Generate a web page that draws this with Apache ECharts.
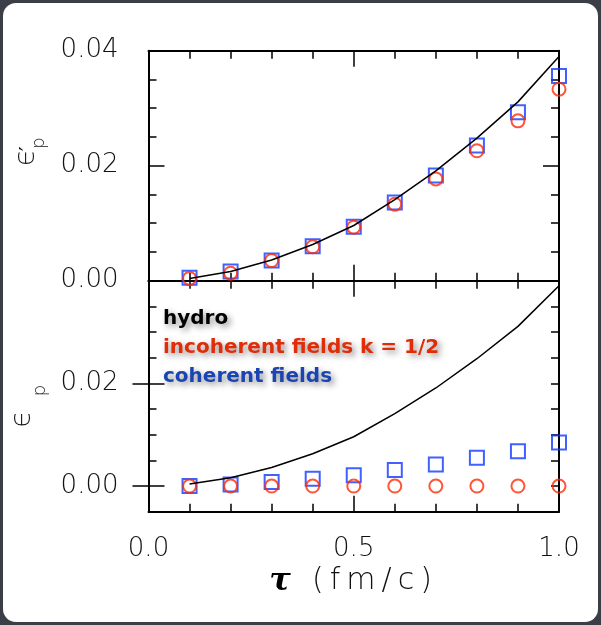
<!DOCTYPE html>
<html>
<head>
<meta charset="utf-8">
<script src="https://cdn.jsdelivr.net/npm/echarts@6/dist/echarts.min.js"></script>
<style>
  html, body { margin: 0; padding: 0; background: #3b3e46; }
  #card { position: absolute; left: 3px; top: 3px; width: 595px; height: 619px; background: #fff; border-radius: 13px; }
  #chart { position: absolute; left: 0; top: 0; width: 601px; height: 625px; }
</style>
</head>
<body>
<div id="card"></div>
<div id="chart"></div>
<script>
// tau in fm/c
const tau = [0.1, 0.2, 0.3, 0.4, 0.5, 0.6, 0.7, 0.8, 0.9, 1.0];
// hydro curve (same in both panels)
const hydro = [0.0004, 0.0016, 0.0036, 0.0063, 0.0096, 0.0141, 0.0191, 0.0248, 0.0311, 0.0390];
// top panel: eps'_p
const incoherentTop = [0.0004, 0.0013, 0.0035, 0.0059, 0.0093, 0.0133, 0.0177, 0.0226, 0.0278, 0.0333];
const coherentTop = [0.0005, 0.0016, 0.0035, 0.0060, 0.0094, 0.0136, 0.0183, 0.0235, 0.0293, 0.0356];
// bottom panel: eps_p
const incoherentBottom = [0, 0, 0, 0, 0, 0, 0, 0, 0, 0];
const coherentBottom = [0.0000, 0.0003, 0.0008, 0.0014, 0.0021, 0.0031, 0.0042, 0.0055, 0.0068, 0.0085];
// tick labels
const xTickLabels = [0, 0.5, 1.0];
const yTickLabelsTop = [0, 0.02, 0.04];
const yTickLabelsBottom = [0, 0.02];
const legendNames = ['hydro', 'incoherent fields k = 1/2', 'coherent fields'];

const pairs = (ys) => tau.map((t, i) => [t, ys[i]]);

const BLUE = '#1038ff';
const RED = '#ff2a08';
const TXT = '#111';
const labelFont = { fontFamily: 'DejaVu Sans', fontWeight: 200, fontSize: 26, color: TXT };
const frameLine = { show: true, onZero: false, lineStyle: { color: '#000', width: 2 } };
const tickStyle = { color: '#000', width: 1.5 };

// rich styles for the rotated y-axis names (epsilon, prime, subscript p)
const nameRich = {
  e: { fontFamily: 'DejaVu Sans', fontWeight: 200, fontSize: 28, lineHeight: 36, verticalAlign: 'top', color: TXT },
  s: { fontFamily: 'DejaVu Sans', fontSize: 22, lineHeight: 22, width: 0, verticalAlign: 'top', padding: [6, 0, 0, 0], color: TXT },
  g: { width: 14, fontSize: 10 },
  p: { fontFamily: 'DejaVu Sans', fontWeight: 200, fontSize: 18, lineHeight: 18, verticalAlign: 'bottom', color: TXT }
};

const xAxisBase = (grid, position, labels) => ({
  type: 'value', gridIndex: grid, position, min: 0, max: 1, interval: 0.5,
  axisLine: frameLine,
  axisTick: { show: true, inside: true, length: 16, lineStyle: tickStyle },
  minorTick: { show: true, splitNumber: 5, length: 8, lineStyle: tickStyle },
  axisLabel: labels ? { show: true, margin: 25, ...labelFont, customValues: xTickLabels,
    formatter: v => v.toFixed(1) } : { show: false },
  splitLine: { show: false }, minorSplitLine: { show: false }
});

const chart = echarts.init(document.getElementById('chart'), null, { renderer: 'canvas' });

const option = {
  animation: false,
  backgroundColor: 'transparent',
  grid: [
    { left: 148.5, top: 50.7, width: 410.5, height: 230 },
    { left: 148.5, top: 280.7, width: 410.5, height: 231 }
  ],
  xAxis: [
    xAxisBase(0, 'bottom', false),
    xAxisBase(0, 'top', false),
    xAxisBase(1, 'bottom', true),
    xAxisBase(1, 'top', false)
  ],
  yAxis: [
    // top panel, left and right
    {
      type: 'value', gridIndex: 0, position: 'left', min: 0, max: 0.04, interval: 0.02,
      name: '{e|ϵ}{s|′}{p|p}', nameLocation: 'middle', nameGap: 100,
      nameTextStyle: { lineHeight: 41, padding: [0, 0, 0, 28], rich: nameRich },
      axisLine: frameLine,
      axisTick: { show: true, inside: true, length: 16, lineStyle: tickStyle },
      minorTick: { show: true, splitNumber: 4, length: 8, lineStyle: tickStyle },
      axisLabel: { show: true, margin: 30, ...labelFont, customValues: yTickLabelsTop, formatter: v => v.toFixed(2) },
      splitLine: { show: false }
    },
    {
      type: 'value', gridIndex: 0, position: 'right', min: 0, max: 0.04, interval: 0.02,
      axisLine: frameLine,
      axisTick: { show: true, inside: true, length: 16, lineStyle: tickStyle },
      minorTick: { show: true, splitNumber: 4, length: 8, lineStyle: tickStyle },
      axisLabel: { show: false },
      splitLine: { show: false }
    },
    // bottom panel: small ticks every 0.005
    {
      type: 'value', gridIndex: 1, position: 'left', min: -0.005, max: 0.04, interval: 0.005,
      axisLine: frameLine,
      axisTick: { show: true, inside: true, length: 8, lineStyle: tickStyle },
      axisLabel: { show: false }, splitLine: { show: false }
    },
    {
      type: 'value', gridIndex: 1, position: 'right', min: -0.005, max: 0.04, interval: 0.005,
      axisLine: frameLine,
      axisTick: { show: true, inside: true, length: 8, lineStyle: tickStyle },
      axisLabel: { show: false }, splitLine: { show: false }
    },
    // bottom panel: long ticks + labels at 0.00 / 0.02
    {
      type: 'value', gridIndex: 1, position: 'left', min: -0.005, max: 0.04,
      name: '{e|ϵ}{g|}{p|p}', nameLocation: 'middle', nameGap: 99,
      nameTextStyle: { lineHeight: 41, padding: [0, 20, 0, 0], rich: nameRich },
      axisLine: { show: false },
      axisTick: { show: true, inside: true, length: 16, customValues: yTickLabelsBottom, lineStyle: tickStyle },
      axisLabel: { show: true, margin: 30, ...labelFont, customValues: yTickLabelsBottom, formatter: v => v.toFixed(2) },
      splitLine: { show: false }
    },
    {
      type: 'value', gridIndex: 1, position: 'right', min: -0.005, max: 0.04,
      axisLine: { show: false },
      axisTick: { show: true, inside: true, length: 16, customValues: yTickLabelsBottom, lineStyle: tickStyle },
      axisLabel: { show: false }, splitLine: { show: false }
    }
  ],
  series: [
    {
      name: 'coherent top', type: 'scatter', xAxisIndex: 0, yAxisIndex: 0, clip: false,
      symbol: 'rect', symbolSize: 14, data: pairs(coherentTop),
      itemStyle: { color: 'rgba(0,0,0,0)', borderColor: BLUE, borderWidth: 2 }
    },
    {
      name: 'incoherent top', type: 'scatter', xAxisIndex: 0, yAxisIndex: 0, clip: false,
      symbol: 'circle', symbolSize: 13, data: pairs(incoherentTop),
      itemStyle: { color: 'rgba(0,0,0,0)', borderColor: RED, borderWidth: 2 }
    },
    {
      name: 'hydro top', type: 'line', xAxisIndex: 0, yAxisIndex: 0, showSymbol: false,
      data: pairs(hydro), lineStyle: { color: '#000', width: 1.5 }
    },
    {
      name: 'coherent bottom', type: 'scatter', xAxisIndex: 2, yAxisIndex: 2, clip: false,
      symbol: 'rect', symbolSize: 14, data: pairs(coherentBottom),
      itemStyle: { color: 'rgba(0,0,0,0)', borderColor: BLUE, borderWidth: 2 }
    },
    {
      name: 'incoherent bottom', type: 'scatter', xAxisIndex: 2, yAxisIndex: 2, clip: false,
      symbol: 'circle', symbolSize: 13, data: pairs(incoherentBottom),
      itemStyle: { color: 'rgba(0,0,0,0)', borderColor: RED, borderWidth: 2 }
    },
    {
      name: 'hydro bottom', type: 'line', xAxisIndex: 2, yAxisIndex: 2, showSymbol: false,
      data: pairs(hydro), lineStyle: { color: '#000', width: 1.5 }
    }
  ],
  graphic: [
    // legend text with soft shadow
    ...legendNames.map((name, i) => ({
      type: 'text', left: 163, top: 309 + i * 29, z: 10,
      style: {
        text: name, fill: ['#000', '#e02c08', '#1a44b2'][i],
        font: 'bold 20px "DejaVu Sans"',
        textShadowColor: 'rgba(0,0,0,0.45)', textShadowBlur: 6,
        textShadowOffsetX: 3, textShadowOffsetY: 3
      }
    })),
    // x axis name
    { type: 'text', x: 280, y: 582,
      style: { text: 'τ', font: 'italic bold 32px "DejaVu Serif"', fill: '#000', align: 'center', verticalAlign: 'middle' } },
    { type: 'text', x: 372, y: 581,
      style: { text: '(\u2009f\u2009m\u2009/\u2009c\u2009)', font: '200 30px "DejaVu Sans"', fill: TXT, align: 'center', verticalAlign: 'middle' } }
  ]
};

chart.setOption(option);
</script>
</body>
</html>
